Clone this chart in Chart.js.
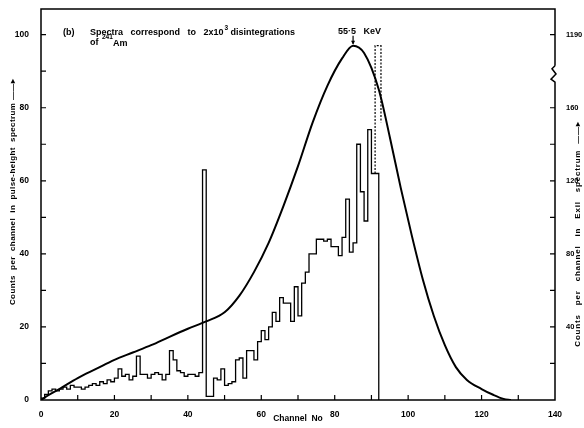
<!DOCTYPE html>
<html>
<head>
<meta charset="utf-8">
<script src="https://cdn.jsdelivr.net/npm/chart.js@4.4.1/dist/chart.umd.min.js"></script>
<style>
  body { margin: 0; background: #fff; }
  canvas { display: block; }
</style>
</head>
<body>
<canvas id="myChart" width="584" height="428"></canvas>
<script>
// smooth pulse-height spectrum (left axis)
const curveChannels = [0, 2, 5, 10, 15, 20, 25, 30, 35, 40, 45, 50, 54, 58, 62, 66, 70, 74, 78, 82, 85, 88, 92, 95, 98, 101, 104, 107, 110, 113, 116, 120, 123, 126, 128];
const curveCounts = [0, 1.3, 3, 6, 8.5, 11, 13, 15, 17.3, 19.5, 21.5, 24, 28.5, 35, 43, 53, 64, 76, 86, 93.5, 97, 95, 85, 72, 58, 45, 33, 23, 15, 9, 5.5, 3, 1.5, 0.3, 0];

// step histogram, one value per channel 0..92
const histCounts = [
  0.5, 1.5, 2.5, 3, 2.5, 3, 3.5, 3, 4, 3.5,
  3.5, 3, 3.5, 4, 4.5, 4, 5, 4.5, 5.5, 5,
  6, 8.5, 6.5, 7, 5.5, 6.5, 12, 7, 7, 6,
  7, 7.5, 7, 5.5, 7, 13.5, 11, 8, 7.5, 6.5,
  7, 7, 6.5, 7.5, 63, 1, 1, 6, 5.5, 8.5,
  4, 4.5, 5, 11, 11.5, 6, 13.5, 13.5, 11, 16,
  19, 16.5, 20, 24, 21.5, 28, 26.5, 26.5, 21.5, 31,
  23, 32, 35, 40, 40, 44, 44, 43.5, 44, 42,
  42, 39.5, 44.5, 55, 40.5, 43, 70, 57, 49, 74,
  62, 62, 0
];

// dashed off-scale peak (1190 counts)
const spikeChannels = [91, 91, 92.6, 92.6];
const spikeCounts = [62, 97, 97, 76];

// tick labels
const rightTickValues = [40, 80, 120, 160, 200];
const rightTickLabels = ['40', '80', '120', '160', '1190'];

const labelFont = { family: 'Liberation Sans', size: 8.5, weight: 'bold' };
const smallFont = { family: 'Liberation Sans', size: 7.5, weight: 'bold' };

const curveData = curveChannels.map((c, i) => ({ x: c, y: curveCounts[i] }));
const histData = histCounts.map((v, i) => ({ x: i, y: v }));
const spikeData = spikeChannels.map((c, i) => ({ x: c, y: spikeCounts[i] }));

// frame, inward ticks, axis break and annotations
const framePlugin = {
  id: 'frame',
  afterDraw(chart) {
    const ctx = chart.ctx;
    const { left, right, top, bottom } = chart.chartArea;
    const x = chart.scales.x, y = chart.scales.y, y2 = chart.scales.y2;
    ctx.save();
    ctx.strokeStyle = '#000';
    ctx.lineWidth = 1.5;
    const brTop = y2.getPixelForValue(183);
    const brBot = y2.getPixelForValue(174);
    ctx.beginPath();
    ctx.moveTo(right, brTop);
    ctx.lineTo(right, top);
    ctx.lineTo(left, top);
    ctx.lineTo(left, bottom);
    ctx.lineTo(right, bottom);
    ctx.lineTo(right, brBot);
    ctx.lineTo(right - 4, brBot - 3);
    ctx.lineTo(right + 1, (brTop + brBot) / 2);
    ctx.lineTo(right - 3, brTop + 3);
    ctx.lineTo(right, brTop);
    ctx.stroke();

    ctx.lineWidth = 1.2;
    ctx.beginPath();
    for (let v = 10; v < 140; v += 10) {
      const px = x.getPixelForValue(v);
      ctx.moveTo(px, bottom);
      ctx.lineTo(px, bottom - 5);
    }
    for (let v = 10; v <= 100; v += 10) {
      const py = y.getPixelForValue(v);
      ctx.moveTo(left, py);
      ctx.lineTo(left + 5, py);
    }
    for (let v = 20; v <= 160; v += 20) {
      const py = y2.getPixelForValue(v);
      ctx.moveTo(right, py);
      ctx.lineTo(right - 5, py);
    }
    const py1190 = y2.getPixelForValue(200);
    ctx.moveTo(right, py1190);
    ctx.lineTo(right - 5, py1190);
    ctx.stroke();

    ctx.fillStyle = '#000';
    ctx.textBaseline = 'alphabetic';
    const line1 = 'Spectra   correspond   to   2x10';
    ctx.font = 'bold 9px "Liberation Sans"';
    ctx.fillText('(b)', left + 22, top + 26);
    ctx.fillText(line1, left + 49, top + 26);
    const w = ctx.measureText(line1).width;
    ctx.font = 'bold 6.5px "Liberation Sans"';
    ctx.fillText('3', left + 49 + w + 1, top + 21);
    ctx.font = 'bold 9px "Liberation Sans"';
    ctx.fillText('disintegrations', left + 49 + w + 7, top + 26);
    ctx.fillText('of', left + 49, top + 36);
    ctx.font = 'bold 6.5px "Liberation Sans"';
    ctx.fillText('241', left + 61, top + 30);
    ctx.font = 'bold 9px "Liberation Sans"';
    ctx.fillText('Am', left + 72, top + 37);

    // peak marker
    let pk = 0;
    curveCounts.forEach((v, i) => { if (v > curveCounts[pk]) pk = i; });
    const ax = x.getPixelForValue(curveChannels[pk]);
    const ay = y.getPixelForValue(curveCounts[pk]);
    ctx.fillText('55\u00b75   KeV', ax - 15, ay - 12);
    ctx.lineWidth = 1.2;
    ctx.beginPath();
    ctx.moveTo(ax, ay - 10);
    ctx.lineTo(ax, ay - 2);
    ctx.stroke();
    ctx.beginPath();
    ctx.moveTo(ax - 2, ay - 5);
    ctx.lineTo(ax, ay - 1);
    ctx.lineTo(ax + 2, ay - 5);
    ctx.fill();

    // axis titles, reading upward
    ctx.textAlign = 'center';
    ctx.textBaseline = 'middle';
    ctx.save();
    ctx.font = 'bold 8px "Liberation Sans"';
    ctx.letterSpacing = '0.4px';
    ctx.translate(13, 192);
    ctx.rotate(-Math.PI / 2);
    ctx.fillText('Counts  per  channel  in  pulse-height  spectrum \u2014\u2014\u25b8', 0, 0);
    ctx.restore();

    ctx.font = 'bold 8px "Liberation Sans"';
    ctx.letterSpacing = '0.8px';
    ctx.translate(right + 23, 234);
    ctx.rotate(-Math.PI / 2);
    ctx.fillText('Counts   per   channel   in   Exil   spectrum  \u2014\u2014\u25b8', 0, 0);
    ctx.restore();
  }
};

new Chart(document.getElementById('myChart'), {
  type: 'line',
  data: {
    datasets: [
      {
        label: 'Pulse-height spectrum',
        data: curveData,
        borderColor: '#000',
        borderWidth: 2,
        pointRadius: 0,
        cubicInterpolationMode: 'monotone',
        yAxisID: 'y'
      },
      {
        label: 'Exil spectrum',
        data: histData,
        borderColor: '#000',
        borderWidth: 1.3,
        pointRadius: 0,
        stepped: true,
        yAxisID: 'y'
      },
      {
        label: 'Off-scale peak',
        data: spikeData,
        borderColor: '#000',
        borderWidth: 1.2,
        borderDash: [2, 1.5],
        pointRadius: 0,
        yAxisID: 'y'
      }
    ]
  },
  options: {
    responsive: false,
    animation: false,
    devicePixelRatio: 1,
    layout: { padding: { top: 7 } },
    plugins: { legend: { display: false }, tooltip: { enabled: false } },
    scales: {
      x: {
        type: 'linear',
        min: 0,
        max: 140,
        grid: { display: false },
        border: { display: false },
        ticks: {
          stepSize: 10,
          autoSkip: false,
          maxRotation: 0,
          padding: 2,
          color: '#000',
          font: labelFont,
          callback: v => (v % 20 === 0 ? v : '')
        },
        title: {
          display: true,
          text: 'Channel  No',
          color: '#000',
          font: labelFont,
          padding: { top: 0, bottom: 4 }
        },
        afterFit: s => { s.height = 28; }
      },
      y: {
        min: 0,
        max: 107,
        grid: { display: false },
        border: { display: false },
        ticks: {
          stepSize: 10,
          padding: 4,
          color: '#000',
          font: labelFont,
          callback: v => (v % 20 === 0 ? v : '')
        },
        afterFit: s => { s.width = 41; }
      },
      y2: {
        position: 'right',
        min: 0,
        max: 214,
        grid: { display: false },
        border: { display: false },
        afterBuildTicks: s => { s.ticks = rightTickValues.map(v => ({ value: v })); },
        ticks: {
          padding: 3,
          color: '#000',
          font: smallFont,
          callback: v => rightTickLabels[rightTickValues.indexOf(v)]
        },
        afterFit: s => { s.width = 29; }
      }
    }
  },
  plugins: [framePlugin]
});
</script>
</body>
</html>
